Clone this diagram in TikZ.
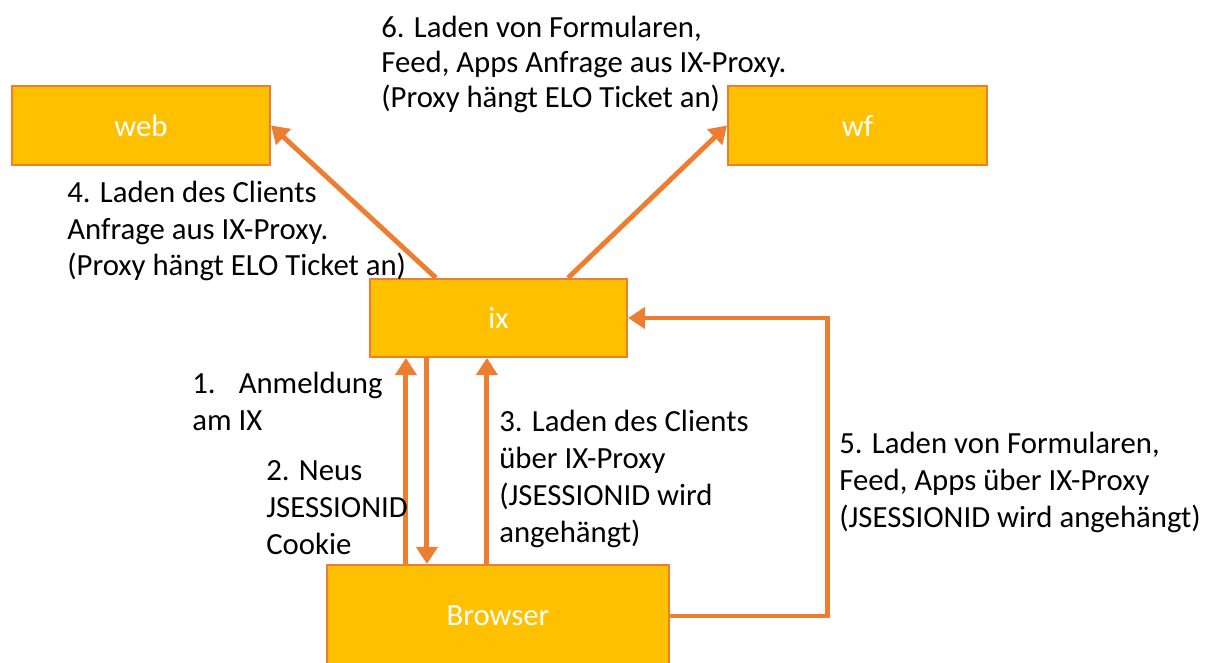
\documentclass[tikz,border=0pt]{standalone}
\usepackage{fontspec}
\setmainfont{Carlito}
\usetikzlibrary{arrows.meta}
\definecolor{boxfill}{HTML}{FFC000}
\definecolor{boxline}{HTML}{ED7D31}
\begin{document}
\begin{tikzpicture}[font=\fontsize{17.5}{21}\selectfont,
	box/.style={draw=boxline, fill=boxfill, line width=1.2pt, text=white, inner sep=0pt},
	flow/.style={draw=boxline, line width=2.8pt, -{Triangle[length=0.34cm,width=0.42cm]}},
	lbl/.style={anchor=base west, align=left, inner sep=0pt}]
	\useasboundingbox (0,0) rectangle (24.12,13.24);
	
	\node[box, minimum width=5.16cm, minimum height=1.58cm] (web) at (2.82,10.73) {web};
	\node[box, minimum width=5.18cm, minimum height=1.58cm] (wf) at (17.15,10.73) {wf};
	\node[box, minimum width=5.14cm, minimum height=1.56cm] (ix) at (9.97,6.88) {ix};
	\node[box, minimum width=6.84cm, minimum height=2.04cm] (browser) at (9.96,0.92) {Browser};
	
	\draw[flow] ([xshift=1.34cm]ix.north west) -- (web.east);
	\draw[flow] ([xshift=-1.2cm]ix.north east) -- (wf.west);
	\draw[flow] ([xshift=0.74cm]ix.south west |- browser.north) -- ([xshift=0.74cm]ix.south west);
	\draw[flow] ([xshift=1.16cm]ix.south west) -- ([xshift=1.16cm]ix.south west |- browser.north);
	\draw[flow] ([xshift=2.36cm]ix.south west |- browser.north) -- ([xshift=2.36cm]ix.south west);
	\draw[flow] (browser.east) -- ++(3.14,0) |- (ix.east);
	
	% base anchor sits on the last line
	\node[lbl, font=\fontsize{17.5}{20}\selectfont] (l6) at (7.62,11.09) {6. Laden von Formularen,\\Feed, Apps Anfrage aus IX-Proxy.\\(Proxy hängt ELO Ticket an)};
	\node[lbl] (l4) at (1.34,7.72) {4. Laden des Clients\\Anfrage aus IX-Proxy.\\(Proxy hängt ELO Ticket an)};
	\node[lbl] (l1) at (3.84,4.64) {1.\hspace{0.75em}Anmeldung\\am IX};
	\node[lbl] (l2) at (5.32,2.16) {2. Neus\\JSESSIONID\\Cookie};
	\node[lbl] (l3) at (9.98,2.40) {3. Laden des Clients\\über IX-Proxy\\(JSESSIONID wird\\angehängt)};
	\node[lbl] (l5) at (16.78,2.70) {5. Laden von Formularen,\\Feed, Apps über IX-Proxy\\(JSESSIONID wird angehängt)};
\end{tikzpicture}
\end{document}
